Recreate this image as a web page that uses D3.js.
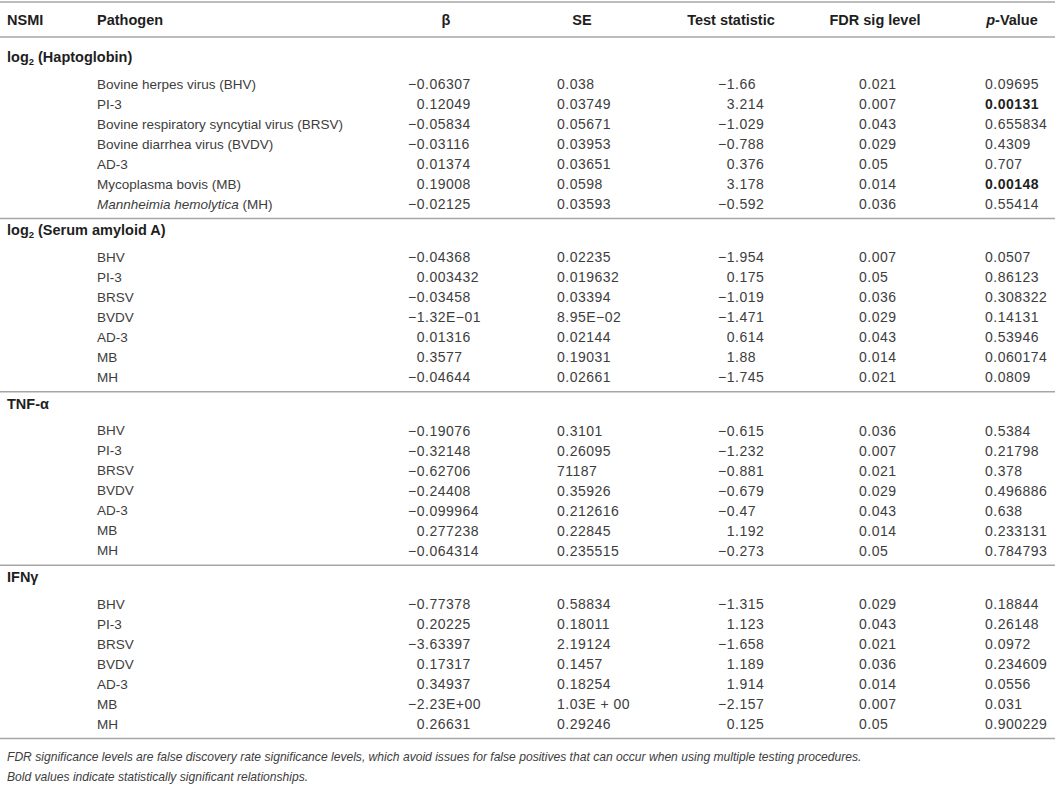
<!DOCTYPE html>
<html>
<head>
<meta charset="utf-8">
<script src="https://cdn.jsdelivr.net/npm/d3@7"></script>
<style>
  html, body { margin: 0; padding: 0; background: #fff; }
  svg { display: block; font-family: "Liberation Sans", Arial, sans-serif; }
</style>
</head>
<body>
<div id="table"></div>
<script>
// table content
const columns = ["NSMI", "Pathogen", "β", "SE", "Test statistic", "FDR sig level", "*p*-Value"]
const groups = ["log2 (Haptoglobin)", "log2 (Serum amyloid A)", "TNF-α", "IFNγ"]
const pathogensLong = ["Bovine herpes virus (BHV)", "PI-3", "Bovine respiratory syncytial virus (BRSV)",
  "Bovine diarrhea virus (BVDV)", "AD-3", "Mycoplasma bovis (MB)", "*Mannheimia hemolytica* (MH)"]
const pathogensShort = ["BHV", "PI-3", "BRSV", "BVDV", "AD-3", "MB", "MH"]

const beta = [
  ["−0.06307", "0.12049", "−0.05834", "−0.03116", "0.01374", "0.19008", "−0.02125"],
  ["−0.04368", "0.003432", "−0.03458", "−1.32E−01", "0.01316", "0.3577", "−0.04644"],
  ["−0.19076", "−0.32148", "−0.62706", "−0.24408", "−0.099964", "0.277238", "−0.064314"],
  ["−0.77378", "0.20225", "−3.63397", "0.17317", "0.34937", "−2.23E+00", "0.26631"]
]
const se = [
  ["0.038", "0.03749", "0.05671", "0.03953", "0.03651", "0.0598", "0.03593"],
  ["0.02235", "0.019632", "0.03394", "8.95E−02", "0.02144", "0.19031", "0.02661"],
  ["0.3101", "0.26095", "71187", "0.35926", "0.212616", "0.22845", "0.235515"],
  ["0.58834", "0.18011", "2.19124", "0.1457", "0.18254", "1.03E + 00", "0.29246"]
]
const testStat = [
  ["−1.66", "3.214", "−1.029", "−0.788", "0.376", "3.178", "−0.592"],
  ["−1.954", "0.175", "−1.019", "−1.471", "0.614", "1.88", "−1.745"],
  ["−0.615", "−1.232", "−0.881", "−0.679", "−0.47", "1.192", "−0.273"],
  ["−1.315", "1.123", "−1.658", "1.189", "1.914", "−2.157", "0.125"]
]
const fdr = [
  ["0.021", "0.007", "0.043", "0.029", "0.05", "0.014", "0.036"],
  ["0.007", "0.05", "0.036", "0.029", "0.043", "0.014", "0.021"],
  ["0.036", "0.007", "0.021", "0.029", "0.043", "0.014", "0.05"],
  ["0.029", "0.043", "0.021", "0.036", "0.014", "0.007", "0.05"]
]
const pValue = [
  ["0.09695", "0.00131", "0.655834", "0.4309", "0.707", "0.00148", "0.55414"],
  ["0.0507", "0.86123", "0.308322", "0.14131", "0.53946", "0.060174", "0.0809"],
  ["0.5384", "0.21798", "0.378", "0.496886", "0.638", "0.233131", "0.784793"],
  ["0.18844", "0.26148", "0.0972", "0.234609", "0.0556", "0.031", "0.900229"]
]
// rows (per group) whose p-value is significant
const boldP = [[1, 5], [], [], []]
const footnotes = [
  "FDR significance levels are false discovery rate significance levels, which avoid issues for false positives that can occur when using multiple testing procedures.",
  "Bold values indicate statistically significant relationships."
]

const width = 1055
const height = 792
const nameSize = 13.5
const numSize = 14
const numSpacing = 0.5
const headSize = 14.5
const textColor = "#3d3d3d"
const headColor = "#1e1e1e"
const ruleColor = "#a6a6a6"

// column anchors (decimal point for beta / test statistic, left edge otherwise)
const colX = { nsmi: 7, pathogen: 97, beta: 425, se: 557, test: 735, fdr: 859, p: 985 }
const headerX = [7, 97, 446, 582, 731, 875, 1012]
const headerAnchor = ["start", "start", "middle", "middle", "middle", "middle", "middle"]

// vertical layout
const y = d3.scaleLinear().domain([0, groups.length - 1]).range([84, 604])   // first data row of each group
const rowY = d3.scaleLinear().domain([0, 6]).range([0, 120])                 // row offset inside group

const svg = d3.select("#table").append("svg")
  .attr("width", width)
  .attr("height", height)
  .attr("viewBox", [0, 0, width, height].join(" "))

// writes "*italic* normal" strings into a text element
function richText(sel, str) {
  str.split("*").forEach((part, i) => {
    if (!part) return
    sel.append("tspan").attr("font-style", i % 2 ? "italic" : null).text(part)
  })
}

const rule = yy => svg.append("line")
  .attr("x1", 0).attr("x2", width)
  .attr("y1", yy).attr("y2", yy)
  .attr("stroke", ruleColor)
  .attr("stroke-width", 1.5)

// header
rule(2)
rule(37)
svg.append("g")
  .selectAll("text")
  .data(columns)
  .join("text")
  .attr("x", (d, i) => headerX[i])
  .attr("y", 20)
  .attr("dy", "0.35em")
  .attr("text-anchor", (d, i) => headerAnchor[i])
  .attr("font-size", headSize)
  .attr("font-weight", "bold")
  .attr("fill", headColor)
  .each(function(d) { richText(d3.select(this), d) })

// width of a string in the number font, for decimal alignment
const probe = svg.append("text")
  .attr("font-size", numSize)
  .attr("letter-spacing", numSpacing)
  .attr("visibility", "hidden")
function textW(s) {
  probe.text(s)
  return probe.node().getComputedTextLength()
}
function decimalX(s, xDec) {
  const k = s.indexOf(".")
  const intPart = k < 0 ? s : s.slice(0, k)
  return xDec - textW(intPart)
}

groups.forEach((name, g) => {
  const y0 = y(g)
  // group heading
  const head = svg.append("text")
    .attr("x", colX.nsmi)
    .attr("y", y0 - 27)
    .attr("dy", "0.35em")
    .attr("font-size", headSize)
    .attr("font-weight", "bold")
    .attr("fill", headColor)
  if (name.startsWith("log2")) {
    head.append("tspan").text("log")
    head.append("tspan").attr("font-size", headSize * 0.65).attr("dy", 3).text("2")
    head.append("tspan").attr("dy", -3).text(name.slice(4))
  } else {
    head.text(name)
  }

  const rows = d3.range(7).map(i => ({
    i: i,
    name: g === 0 ? pathogensLong[i] : pathogensShort[i],
    beta: beta[g][i],
    se: se[g][i],
    test: testStat[g][i],
    fdr: fdr[g][i],
    p: pValue[g][i],
    bold: boldP[g].includes(i)
  }))

  const row = svg.append("g")
    .attr("fill", textColor)
    .selectAll("g")
    .data(rows)
    .join("g")
    .attr("transform", d => `translate(0,${y0 + rowY(d.i)})`)

  row.append("text").attr("x", colX.pathogen).attr("dy", "0.35em")
    .attr("font-size", nameSize)
    .each(function(d) { richText(d3.select(this), d.name) })

  const num = (x, f) => row.append("text")
    .attr("x", x)
    .attr("dy", "0.35em")
    .attr("font-size", numSize)
    .attr("letter-spacing", numSpacing)
    .text(f)

  num(d => decimalX(d.beta, colX.beta), d => d.beta)
  num(colX.se, d => d.se)
  num(d => decimalX(d.test, colX.test), d => d.test)
  num(colX.fdr, d => d.fdr)
  num(colX.p, d => d.p)
    .attr("font-weight", d => d.bold ? "bold" : null)
    .attr("fill", d => d.bold ? headColor : null)

  rule(y0 + rowY(6) + 14.5)
})
probe.remove()

// footnotes
svg.append("g")
  .selectAll("text")
  .data(footnotes)
  .join("text")
  .attr("x", 7)
  .attr("y", (d, i) => 757 + i * 20)
  .attr("dy", "0.35em")
  .attr("font-size", 12.1)
  .attr("font-style", "italic")
  .attr("fill", textColor)
  .text(d => d)
</script>
</body>
</html>
